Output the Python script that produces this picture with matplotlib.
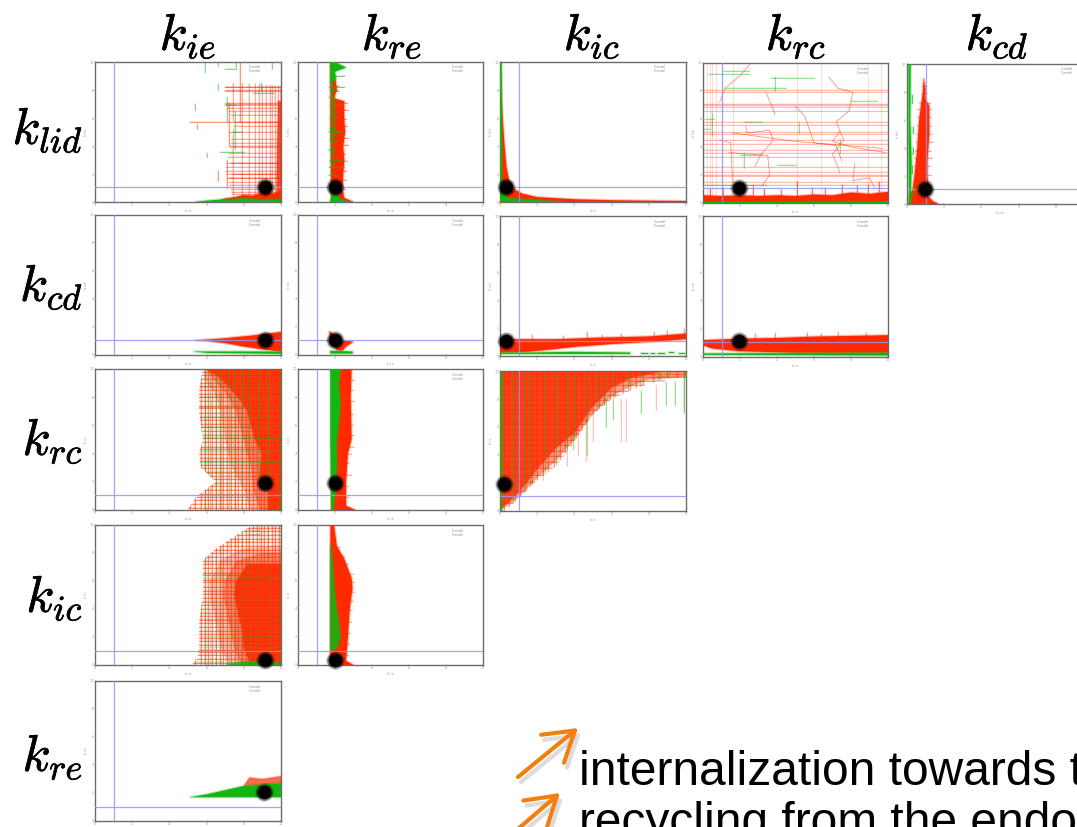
#!/usr/bin/env python

# Grid of pairwise parameter traces, with blue reference lines and black start points

import matplotlib

matplotlib.use("Agg")
import matplotlib.pyplot as plt
from matplotlib.patches import Polygon, FancyArrowPatch
import matplotlib.patheffects as pe

plt.rcParams["mathtext.fontset"] = "cm"

W, H = 1077, 827
RED = "#ff2a00"
GREEN = "#12b512"
BLUE = "#9494f4"

column_labels = ["k_{ie}", "k_{re}", "k_{ic}", "k_{rc}", "k_{cd}"]
row_labels = ["k_{lid}", "k_{cd}", "k_{rc}", "k_{ic}", "k_{re}"]
tick_values = [0, 2, 4, 6, 8, 10]
text_lines = ["internalization towards t", "recycling from the endo"]

# Panel edges in pixels: left, top, right, bottom
box_a1 = (95, 62, 281, 202)
box_a2 = (298, 62, 483, 202)
box_a3 = (500, 62, 686, 202)
box_a4 = (703, 63, 888, 203)
box_a5 = (907, 64, 1093, 204)
box_b1 = (95, 215, 281, 355)
box_b2 = (298, 215, 483, 355)
box_b3 = (500, 216, 686, 356)
box_b4 = (703, 216, 888, 357)
box_c1 = (95, 369, 281, 510)
box_c2 = (298, 369, 483, 510)
box_c3 = (500, 371, 686, 511)
box_d1 = (95, 525, 281, 665)
box_d2 = (298, 525, 483, 665)
box_e1 = (95, 681, 281, 821)

# Filled outlines of the traces (x, y)
a1_red = [(6.5, 0), (10, 0), (10, 0.8), (9.6, 0.6), (9, 0.7), (8.5, 0.45), (8, 0.5), (7.5, 0.35), (7, 0.25)]
a1_green = [(5.4, 0), (10, 0), (10, 0.2), (9, 0.15), (8, 0.28), (7.3, 0.18), (7, 0.2), (6, 0.1)]
a1_edge = [(9.75, 0.3), (10, 0.3), (10, 7.2), (9.85, 7.2), (9.8, 4.5)]
a2_red = [(1.8, 0), (3.0, 0), (2.5, 0.3), (2.4, 1), (2.5, 3), (2.45, 4), (2.55, 5), (2.5, 6), (2.5, 7.2),
          (1.95, 7.4), (2.1, 8), (2.05, 8.6), (1.85, 10), (1.75, 10), (1.75, 5)]
a2_green = [(1.72, 0), (2.8, 0), (2.3, 0.2), (2.1, 0.55), (1.85, 0.6)]
a2_green_top = [(1.75, 8.4), (2.05, 8.8), (2.0, 9.3), (2.6, 9.6), (2.0, 10), (1.75, 10)]
a3_red = [(0, 0), (10, 0), (10, 0.07), (8, 0.1), (6, 0.13), (4, 0.2), (2, 0.35), (1.2, 0.6), (0.8, 0.9),
          (0.5, 1.5), (0.35, 2.5), (0.25, 4), (0.15, 6), (0.08, 8), (0.05, 10), (0, 10)]
a3_green = [(0, 0), (3.5, 0), (2.5, 0.1), (1, 0.22), (0.4, 0.3), (0.1, 1), (0.1, 4), (0.08, 10), (0, 10)]
a4_red = [(0.05, 0), (10, 0), (10, 0.8), (9, 0.65), (8, 0.75), (7, 0.55), (6, 0.6), (5, 0.5), (4, 0.55),
          (3, 0.5), (2, 0.55), (1, 0.5), (0.05, 0.55)]
a4_green = [(0.05, 0), (10, 0), (10, 0.08), (0.05, 0.08)]
a5_red = [(0.1, 0), (1.7, 0), (1.4, 0.2), (1.1, 0.6), (1.2, 1), (1.1, 2), (1.1, 3), (1.15, 4), (1.2, 5),
          (1.2, 6), (1.2, 7), (1.0, 7.5), (1.0, 8.2), (0.9, 9), (0.85, 8), (0.75, 7), (0.65, 6), (0.55, 4),
          (0.4, 2), (0.3, 1), (0.1, 0.5)]
a5_green = [(0.1, 0), (0.2, 0), (0.25, 3), (0.18, 6), (0.2, 10), (0.08, 10), (0.08, 5)]
b1_red = [(5.4, 1.05), (7, 1.2), (8.5, 1.4), (10, 1.65), (10, 0.25), (9, 0.4), (8, 0.6), (7, 0.85), (6, 1.0)]
b1_green = [(5.3, 0.25), (10, 0.25), (10, 0.08), (6, 0.15)]
b2_red = [(1.7, 1.7), (2.0, 1.4), (2.3, 1.05), (3.0, 0.95), (2.6, 0.6), (2.4, 0.3), (2.1, 0.35), (1.9, 0.7),
          (1.75, 1.1)]
b2_green = [(1.75, 0.3), (2.95, 0.25), (2.95, 0.1), (1.75, 0.1)]
b3_red = [(0, 1.2), (3, 1.2), (5, 1.3), (8, 1.4), (10, 1.6), (10, 1.2), (8, 1.0), (6, 0.85), (4, 0.65),
          (3, 0.5), (1.5, 0.3), (0, 0.25)]
b3_green = [(0, 0.25), (1.5, 0.25), (4, 0.3), (7, 0.25), (7, 0.15), (0, 0.15)]
b4_red = [(0.05, 1.2), (2, 1.3), (4, 1.35), (6, 1.45), (8, 1.5), (10, 1.55), (10, 0.3), (8, 0.3), (5, 0.3),
          (2, 0.4), (0.5, 0.6), (0.05, 0.8)]
b4_green = [(0.05, 0.25), (10, 0.3), (10, 0.1), (0.05, 0.15)]
c1_red = [(10, 0), (9.3, 0), (9.3, 1.5), (8.8, 2), (9, 4), (8.6, 5), (8.2, 7), (7.7, 8), (6.8, 9.3), (6, 10),
          (10, 10)]
c1_mid = [(10, 0), (8.9, 0), (8.5, 1.5), (8.4, 3), (8.0, 5), (7.6, 7), (7.1, 8.2), (6.3, 9.4), (6.0, 10), (10, 10)]
c1_outer = [(10, 0), (8.4, 0), (8.0, 1.5), (7.4, 3), (7.0, 5), (6.8, 7), (6.4, 8.4), (5.9, 9.3), (5.9, 10), (10, 10)]
c2_red = [(1.8, 0), (3.1, 0), (2.6, 0.3), (2.6, 2), (2.7, 4), (2.9, 5), (2.85, 8), (2.9, 10), (1.8, 10)]
c2_green = [(1.75, 10), (2.3, 10), (2.2, 9), (2.3, 7.5), (2.2, 6), (2.1, 5), (2.1, 3), (2.0, 1), (1.9, 0),
            (1.8, 0), (1.75, 5)]
c3_red = [(0, 0.1), (1, 1.3), (2, 3), (3, 4.5), (4, 5.6), (5, 7.5), (6, 8.8), (7, 9.5), (8.5, 9.9), (8.5, 10),
          (0, 10)]
c3_mid = [(0, 0.05), (1, 1.0), (2, 2.4), (3, 3.6), (4, 5.2), (5, 7.0), (6, 8.2), (7, 8.9), (8, 9.4), (10, 9.6),
          (10, 10), (0, 10)]
c3_green = [(0, 0), (0.12, 0), (0.15, 10), (0, 10)]
d1_red = [(10, 0), (8.4, 0), (8.0, 1.2), (7.9, 2.5), (7.5, 5), (7.6, 6), (8.2, 7.2), (10, 7.2)]
d1_mid = [(10, 0), (7.9, 0), (7.5, 1.2), (7.3, 2.5), (6.9, 5), (7.0, 6), (7.6, 7.4), (9, 8.0), (10, 8.0)]
d1_outer = [(10, 0), (7.2, 0), (6.8, 1.2), (6.6, 2.5), (6.2, 5), (6.2, 6), (6.8, 7.5), (8.0, 8.3), (10, 8.5)]
d1_green = [(7, 0), (10, 0), (10, 0.2), (8, 0.25)]
d2_red = [(1.8, 0), (3.0, 0), (2.6, 0.3), (2.7, 2), (2.8, 4), (2.95, 5.5), (2.9, 6.2), (2.5, 7.6), (2.1, 8.5),
          (1.95, 10), (1.75, 10), (1.75, 0)]
d2_green = [(1.75, 1.0), (2.1, 1.2), (2.3, 2), (2.2, 3), (2.0, 5), (1.9, 7), (1.8, 8.5), (1.75, 8.5)]
e1_red = [(8, 2.5), (8.3, 3.1), (9, 3.0), (10, 3.2), (10, 2.7)]
e1_green = [(5.1, 1.7), (10, 1.7), (10, 2.7), (8, 2.5), (7, 2.2), (6, 1.9)]

# Outer limits of the hatched clouds
a1_cloud = [(7.4, 0.4), (7.0, 2.2), (7.5, 5.6), (7.0, 7.0), (7.0, 8.5), (8.0, 8.5), (10, 8.3), (10, 0.3)]
c1_cloud = [(5.8, 10), (5.6, 8.5), (5.6, 7), (5.8, 5), (5.6, 4), (5.7, 3), (6.5, 2), (5.5, 1.0), (5, 0.1),
            (5, 0), (10, 0), (10, 10)]
c3_cloud = [(0, 0), (0.3, 0), (1, 0.9), (2, 2.2), (3, 3.2), (4, 5), (5, 6.9), (6, 8), (7, 8.6), (8, 9.1),
            (9, 9.5), (10, 9.5), (10, 10), (0, 10)]
d1_cloud = [(5.2, 0), (5.5, 0.5), (5.6, 1.2), (5.6, 3), (5.8, 5), (5.8, 7), (5.8, 7.5), (6.5, 8.3), (7.3, 9),
            (8, 9.6), (8.5, 10), (10, 10), (10, 0)]

# Hatch lines inside the clouds
a1_rows = [0.6, 0.75, 0.9, 1.2, 1.45, 1.7, 2.0, 2.25, 2.5, 2.8, 3.2, 3.5, 3.9, 4.0, 4.2, 4.5, 5.0, 5.4, 5.75, 6.2,
           6.5, 6.7, 6.9, 7.0, 7.1, 8.0, 8.2]
a1_cols = [7.4, 7.9, 8.3, 8.6, 8.8, 9.0, 9.2, 9.4, 9.5, 9.7, 9.85, 9.95]
hatch_rows = [0.15, 0.4, 0.7, 0.95, 1.1, 1.4, 1.7, 1.9, 2.2, 2.4, 2.7, 3.0, 3.2, 3.5, 3.7, 4.0, 4.3, 4.5, 4.8,
              5.1, 5.3, 5.6, 5.9, 6.1, 6.4, 6.6, 6.9, 7.2, 7.4, 7.7, 8.0, 8.2, 8.5, 8.8, 9.0, 9.3, 9.6, 9.8]
hatch_cols = [5.1, 5.4, 5.7, 5.9, 6.1, 6.3, 6.5, 6.7, 6.9, 7.1, 7.3, 7.5, 7.7, 7.9, 8.1, 8.3, 8.5, 8.7, 8.9,
              9.1, 9.3, 9.5, 9.7, 9.9]
c1_green_cols = [5.9, 6.2, 6.5, 6.8, 7.2, 7.5, 7.9, 8.3, 8.8, 9.3, 9.95]
c1_green_rows = [2.6, 3.4, 4.2, 5.1, 5.9, 6.6, 7.3, 8.0, 8.7]
c3_rows = [0.6, 1.4, 2.1, 2.6, 3.1, 3.5, 3.9, 4.3, 4.7, 5.1, 5.5, 5.8, 6.2, 6.5, 6.9, 7.2, 7.6, 7.9, 8.3, 8.6,
           9.0, 9.3, 9.6, 9.8]
c3_cols = [0.2, 0.5, 0.8, 1.1, 1.4, 1.7, 2.0, 2.3, 2.6, 2.9, 3.2, 3.5, 3.8, 4.1, 4.4, 4.7, 5.0, 5.3, 5.6, 5.9,
           6.2, 6.6, 7.0, 7.3, 7.7, 8.2, 8.6, 9.0, 9.5]
c3_green_cols = [0.7, 1.3, 1.6, 2.4, 3.0, 3.6, 4.0, 4.6, 5.2, 5.6, 6.1, 6.9, 7.5, 8.5, 9.1, 9.9]
d1_green_rows = [0.2, 1.3, 2.1, 3.3, 4.6, 6.2]

# Separate strokes: x, y0, y1 for uprights and y, x0, x1 for crossbars
a1_red_up = [(7.8, 5.7, 10), (7.2, 4.0, 7.1), (6.6, 1.5, 2.2), (7.1, 1.0, 3.0)]
a1_red_cross = [(5.75, 5.1, 10), (8.2, 7.0, 10), (7.9, 7.0, 10), (2.8, 7.3, 10), (2.0, 7.4, 10), (1.7, 7.2, 10)]
a1_green_up = [(5.9, 9.3, 10), (6.6, 9.7, 10), (7.6, 9.5, 10), (9.5, 9.5, 10), (8.9, 8.0, 8.5), (6.6, 8.0, 8.4),
               (5.4, 6.6, 7.0), (5.5, 5.2, 5.6), (6.0, 3.2, 3.5), (7.5, 3.8, 6.5), (7.1, 5.8, 7.5)]
a1_green_cross = [(9.5, 7.0, 7.5), (6.9, 7.0, 7.6), (3.6, 6.7, 8.0), (5.0, 7.2, 7.9), (7.8, 8.5, 9.6)]
a2_red_bars = [(0.9, 1.8, 2.55), (1.6, 1.75, 2.6), (2.2, 1.8, 2.6), (2.9, 1.75, 2.65), (3.4, 1.8, 2.55),
               (4.1, 1.8, 2.7), (4.6, 1.8, 2.7), (5.4, 1.85, 2.65), (5.9, 1.8, 2.6), (6.6, 1.85, 2.7),
               (7.1, 1.9, 2.65), (7.9, 1.85, 2.2), (8.3, 1.85, 2.15)]
a2_green_bars = [(1.2, 1.75, 2.0), (1.9, 1.7, 2.1), (2.5, 1.7, 2.5), (3.0, 1.75, 2.3), (3.7, 1.7, 2.0),
                 (4.4, 1.75, 2.1), (5.0, 1.7, 2.3), (5.3, 1.75, 2.0), (6.1, 1.75, 2.2), (6.9, 1.75, 2.4),
                 (7.5, 1.7, 2.0), (8.0, 1.75, 2.1), (8.2, 1.7, 2.5), (9.0, 1.8, 2.5)]
a2_green_up = [(1.8, 0.6, 8.4), (1.88, 2.5, 8.4), (1.95, 4.7, 7.4)]
a4_rows = [1.3, 1.5, 1.9, 2.0, 2.2, 2.6, 3.3, 3.6, 3.8, 4.2, 4.5, 4.9, 5.1, 5.6, 5.8, 6.6, 6.85, 7.0, 7.1, 7.9, 8.1]
a4_cols = [0.2, 0.4, 0.5, 0.7, 1.0, 1.6, 5.1, 6.4, 8.9, 9.6]
a4_green_cross = [(9.4, 1.1, 2.5), (8.9, 3.7, 6.0), (9.2, 0.3, 2.5), (8.2, 1.2, 4.5), (7.3, 8.0, 9.4),
                  (5.8, 2.2, 3.2), (6.0, 0.1, 0.6), (5.3, 0.05, 0.4), (3.4, 2.0, 3.2), (2.7, 4.0, 5.0),
                  (1.3, 0.1, 3.4)]
a4_green_up = [(3.9, 8.0, 9.0), (5.2, 5.0, 5.8), (7.4, 3.6, 4.6), (2.2, 2.5, 3.6), (0.5, 4.8, 6.4)]
a4_wiggles = [
    [(2.6, 10), (2.0, 9.1), (1.2, 8.2), (0.9, 7.2)],
    [(6.8, 9.0), (7.3, 8.2), (8.1, 7.9), (7.9, 6.6), (7.2, 5.8), (7.6, 4.5), (7.0, 3.5), (7.4, 2.2)],
    [(3.4, 7.9), (3.7, 7.0), (3.9, 6.3)],
    [(2.3, 5.5), (2.4, 5.0), (3.6, 5.2), (3.8, 4.5), (3.1, 3.4), (2.8, 2.6)],
    [(0.9, 4.5), (1.5, 4.3), (1.6, 1.5)],
    [(1.4, 3.6), (3.5, 3.4), (3.6, 2.0), (3.2, 1.2)],
    [(5.0, 6.9), (5.5, 6.2), (6.0, 4.3), (7.2, 4.1), (7.5, 3.0)],
    [(8.2, 2.8), (8.1, 1.6), (9.0, 1.8), (9.3, 1.0)],
    [(7.4, 5.1), (7.0, 4.4), (8.0, 4.0), (9.9, 3.6)],
    [(1.6, 5.0), (5.0, 4.4), (9.7, 3.9)],
]
a4_fringe = [(0.4, 0.5, 1.0), (1.1, 0.5, 1.1), (1.9, 0.5, 0.9), (2.7, 0.5, 1.2), (3.3, 0.5, 1.0), (4.2, 0.5, 0.9),
             (5.1, 0.5, 1.5), (5.9, 0.5, 1.1), (6.6, 0.5, 1.0), (7.5, 0.5, 1.3), (8.3, 0.6, 1.2), (8.9, 0.6, 1.3),
             (9.5, 0.6, 1.5)]
a5_red_bars = [(1.0, 0.3, 1.4), (1.6, 0.4, 1.25), (2.1, 0.35, 1.3), (2.7, 0.4, 1.25), (3.3, 0.4, 1.35),
               (3.8, 0.45, 1.3), (4.4, 0.5, 1.4), (5.0, 0.5, 1.35), (5.6, 0.55, 1.3), (6.2, 0.55, 1.3),
               (6.8, 0.55, 1.3), (7.2, 0.65, 1.25), (7.9, 0.8, 1.1), (8.4, 0.8, 1.05)]
a5_green_up = [(0.32, 0.6, 1.1), (0.28, 2.2, 2.7), (0.33, 3.6, 4.0), (0.3, 5.1, 5.5), (0.26, 7.2, 7.8)]
b3_green_bars = [(0.25, 7.6, 7.9), (0.22, 8.1, 8.3), (0.25, 8.5, 8.8), (0.28, 9.1, 9.3), (0.25, 9.6, 9.9)]
b3_fringe = [(1.7, 1.2, 1.5), (3.4, 1.2, 1.4), (4.7, 1.3, 1.7), (5.5, 1.3, 1.5), (6.5, 1.35, 1.6), (8.3, 1.4, 1.7),
             (9.0, 1.45, 1.8), (9.9, 1.5, 1.9)]
b4_fringe = [(2.8, 1.3, 1.6), (3.9, 1.35, 1.7), (5.6, 1.4, 1.7), (6.4, 1.4, 1.6), (7.3, 1.45, 1.75), (8.8, 1.5, 1.7)]
c2_red_bars = [(0.9, 1.85, 2.75), (1.7, 1.85, 2.7), (2.5, 1.85, 2.85), (3.3, 1.85, 2.75), (4.0, 1.85, 2.85),
               (4.5, 1.85, 2.95), (5.3, 1.85, 3.0), (6.0, 1.85, 2.95), (6.8, 1.85, 2.95), (7.7, 1.85, 3.0),
               (8.5, 1.85, 2.95), (9.2, 1.85, 3.0)]
c3_drips = [(2.3, 2.2, 4.0), (3.6, 3.2, 5.5), (4.2, 4.0, 6.0), (4.6, 3.6, 6.5), (5.0, 5.0, 7.0), (6.5, 5.0, 8.0),
            (6.8, 5.0, 8.0), (8.4, 7.2, 9.0), (9.9, 7.2, 10)]
c3_green_drips = [(3.9, 4.4, 6.0), (4.7, 4.0, 6.5), (5.7, 6.0, 8.0), (6.1, 6.6, 8.0), (7.6, 7.0, 8.6),
                  (8.9, 7.6, 9.2), (9.4, 7.6, 9.2), (9.9, 7.0, 10)]
d2_red_bars = [(0.7, 1.85, 2.7), (1.5, 1.85, 2.75), (2.3, 1.85, 2.8), (3.1, 1.85, 2.85), (3.9, 1.85, 2.9),
               (4.6, 1.85, 2.95), (5.2, 1.85, 3.0), (5.9, 1.85, 3.0), (6.5, 1.85, 2.95), (7.2, 1.85, 2.7),
               (7.8, 1.85, 2.5), (8.4, 1.8, 2.25)]

# Reference lines and start points
blue_x = [1.0, 1.03, 1.03, 1.0, 1.0, 1.0, 1.03, 1.03, 1.0, 1.0, 1.03, 1.0, 1.0, 1.03, 1.0]
blue_y = [1.1, 1.1, 1.1, 1.1, 1.09, 1.07, 1.07, 1.07, 1.09, 1.09, 1.09, 1.1, 1.03, 1.03, 1.02]
dot_x = [9.12, 2.0, 0.3, 1.97, 0.95, 9.12, 2.0, 0.3, 1.97, 9.12, 2.0, 0.2, 9.12, 2.0, 9.1]
dot_y = [1.1, 1.1, 1.1, 1.05, 1.09, 1.07, 1.07, 1.05, 1.1, 1.95, 1.95, 1.95, 0.35, 0.35, 2.05]
boxes = [box_a1, box_a2, box_a3, box_a4, box_a5, box_b1, box_b2, box_b3, box_b4, box_c1, box_c2, box_c3,
         box_d1, box_d2, box_e1]
x_names = ["k ie", "k re", "k ic", "k rc", "k cd", "k ie", "k re", "k ic", "k rc", "k ie", "k re", "k ic",
           "k ie", "k re", "k ie"]
y_names = ["k lid"] * 5 + ["k cd"] * 4 + ["k rc"] * 3 + ["k ic"] * 2 + ["k re"]

fig = plt.figure(figsize=(W / 100, H / 100), dpi=100, facecolor="white")


def fill(ax, outline, color, alpha=1.0, zorder=3):
    # Wider see-through edge stands in for the blur of the original
    ax.add_patch(Polygon(outline, closed=True, fill=False, edgecolor=color, lw=1.6, alpha=0.3 * alpha, zorder=zorder))
    ax.add_patch(Polygon(outline, closed=True, facecolor=color, edgecolor="none", alpha=alpha, zorder=zorder))


def hatch(ax, cloud, rows, cols, color, lw=0.5, alpha=0.6, zorder=2):
    clip = Polygon(cloud, closed=True, transform=ax.transData)
    for width, a in [(lw * 3.2, alpha * 0.25), (lw, alpha)]:
        h = ax.hlines(rows, 0, 10, color=color, lw=width, alpha=a, zorder=zorder)
        v = ax.vlines(cols, 0, 10, color=color, lw=width, alpha=a, zorder=zorder)
        h.set_clip_path(clip)
        v.set_clip_path(clip)


def strokes(ax, up, cross, color, lw=0.5, alpha=0.6, zorder=2):
    for x, y0, y1 in up:
        ax.plot([x, x], [y0, y1], color=color, lw=lw, alpha=alpha, zorder=zorder)
        ax.plot([x, x], [y0, y1], color=color, lw=lw * 3, alpha=alpha * 0.22, zorder=zorder)
    for y, x0, x1 in cross:
        ax.plot([x0, x1], [y, y], color=color, lw=lw, alpha=alpha, zorder=zorder)
        ax.plot([x0, x1], [y, y], color=color, lw=lw * 3, alpha=alpha * 0.22, zorder=zorder)


axes = []
for i, (l, t, r, b) in enumerate(boxes):
    ax = fig.add_axes([l / W, 1 - b / H, (r - l) / W, (b - t) / H])
    ax.set_xlim(0, 10)
    ax.set_ylim(0, 10)
    ax.set_xticks(tick_values)
    ax.set_yticks(tick_values)
    ax.tick_params(length=1, width=0.3, pad=1, labelsize=2.5, colors="#999999", direction="in")
    ax.set_xlabel(x_names[i], fontsize=2.5, color="#999999", labelpad=1)
    ax.set_ylabel(y_names[i], fontsize=2.5, color="#999999", labelpad=1)
    for s in ax.spines.values():
        s.set_linewidth(1.0)
        s.set_color("#6c6c6c")
    ax.axvline(blue_x[i], color=BLUE, lw=0.9, alpha=0.85, zorder=6)
    ax.axhline(blue_y[i], color=BLUE, lw=0.9, alpha=0.85, zorder=6)
    ax.scatter([dot_x[i]], [dot_y[i]], s=190, color="black", alpha=0.12, lw=0, zorder=7, clip_on=False)
    ax.scatter([dot_x[i]], [dot_y[i]], s=145, color="black", alpha=0.45, lw=0, zorder=7, clip_on=False)
    ax.scatter([dot_x[i]], [dot_y[i]], s=95, color="black", lw=0, zorder=7, clip_on=False)
    ax.text(0.83, 0.975, "0 model\n0 model", transform=ax.transAxes, fontsize=2, color="#888888", va="top",
            ha="left", linespacing=1.0)
    axes.append(ax)

a1, a2, a3, a4, a5, b1, b2, b3, b4, c1, c2, c3, d1, d2, e1 = axes

hatch(a1, a1_cloud, a1_rows, a1_cols, RED, lw=0.45, alpha=0.5)
strokes(a1, a1_red_up, a1_red_cross, RED)
strokes(a1, a1_green_up, a1_green_cross, GREEN, lw=0.5, alpha=0.6, zorder=3)
fill(a1, a1_edge, RED, alpha=0.8)
fill(a1, a1_red, RED)
fill(a1, a1_green, GREEN, zorder=4)

fill(a2, a2_red, RED)
strokes(a2, [], a2_red_bars, RED, zorder=3)
strokes(a2, a2_green_up, a2_green_bars, GREEN, lw=0.5, alpha=0.75, zorder=4)
fill(a2, a2_green, GREEN, zorder=4)
fill(a2, a2_green_top, GREEN, zorder=4)
fill(a3, a3_red, RED)
fill(a3, a3_green, GREEN, zorder=4)

a4.hlines(a4_rows, 0, 10, color=RED, lw=0.5, alpha=0.35, zorder=2)
a4.hlines(a4_rows, 0, 10, color=RED, lw=1.5, alpha=0.08, zorder=2)
a4.vlines(a4_cols, 0, 10, color=RED, lw=0.4, alpha=0.3, zorder=2)
for line in a4_wiggles:
    a4.plot([p[0] for p in line], [p[1] for p in line], color=RED, lw=0.5, alpha=0.6, zorder=2)
strokes(a4, a4_green_up, a4_green_cross, GREEN, lw=0.5, alpha=0.5, zorder=3)
strokes(a4, a4_fringe, [], RED, lw=0.6, alpha=0.7, zorder=3)
fill(a4, a4_red, RED)
fill(a4, a4_green, GREEN, zorder=4)

fill(a5, a5_red, RED)
strokes(a5, [], a5_red_bars, RED, lw=0.4, alpha=0.6, zorder=3)
strokes(a5, a5_green_up, [], GREEN, lw=0.6, alpha=0.8, zorder=4)
fill(a5, a5_green, GREEN, zorder=4)
fill(b1, b1_red, RED)
fill(b1, b1_green, GREEN, zorder=4)
fill(b2, b2_red, RED)
fill(b2, b2_green, GREEN, zorder=4)
fill(b3, b3_red, RED)
strokes(b3, b3_fringe, [], RED, lw=0.5, alpha=0.6, zorder=3)
strokes(b3, [], b3_green_bars, GREEN, lw=0.8, alpha=0.9, zorder=4)
fill(b3, b3_green, GREEN, zorder=4)
fill(b4, b4_red, RED)
strokes(b4, b4_fringe, [], RED, lw=0.5, alpha=0.6, zorder=3)
fill(b4, b4_green, GREEN, zorder=4)

hatch(c1, c1_cloud, hatch_rows, hatch_cols, RED, lw=0.5, alpha=0.65)
fill(c1, c1_outer, RED, alpha=0.25)
fill(c1, c1_mid, RED, alpha=0.4)
fill(c1, c1_red, RED, alpha=0.85)
hatch(c1, c1_cloud, c1_green_rows, c1_green_cols, GREEN, lw=0.5, alpha=0.45, zorder=5)

fill(c2, c2_red, RED)
strokes(c2, [], c2_red_bars, RED, lw=0.4, alpha=0.6, zorder=3)
fill(c2, c2_green, GREEN, zorder=4)

strokes(c3, c3_drips, [], RED, lw=0.4, alpha=0.4, zorder=1)
strokes(c3, c3_green_drips, [], GREEN, lw=0.5, alpha=0.5, zorder=1)
hatch(c3, c3_cloud, c3_rows, c3_cols, RED)
fill(c3, c3_mid, RED, alpha=0.45)
fill(c3, c3_red, RED, alpha=0.8)
hatch(c3, c3_cloud, [], c3_green_cols, GREEN, lw=0.6, alpha=0.4, zorder=4)
fill(c3, c3_green, GREEN, alpha=0.7, zorder=4)

hatch(d1, d1_cloud, hatch_rows, hatch_cols, RED, lw=0.5, alpha=0.65)
fill(d1, d1_outer, RED, alpha=0.25)
fill(d1, d1_mid, RED, alpha=0.4)
fill(d1, d1_red, RED, alpha=0.85)
hatch(d1, d1_cloud, d1_green_rows, c1_green_cols, GREEN, lw=0.4, alpha=0.3, zorder=5)
fill(d1, d1_green, GREEN, alpha=0.8, zorder=5)

fill(d2, d2_red, RED)
strokes(d2, [], d2_red_bars, RED, lw=0.4, alpha=0.6, zorder=3)
fill(d2, d2_green, GREEN, alpha=0.9, zorder=4)
fill(e1, e1_red, RED, alpha=0.7)
fill(e1, e1_green, GREEN, zorder=4)

# Column and row headings, thickened a little as in the original
thick = [pe.withStroke(linewidth=0.5, foreground="black")]
for name, px in zip(column_labels, [188, 392, 592, 796, 997]):
    fig.text(px / W, 1 - 36 / H, "$%s$" % name, fontsize=37, ha="center", va="center", color="black", path_effects=thick)
for name, py in zip(row_labels, [130, 287, 441, 598, 757]):
    fig.text(83 / W, 1 - py / H, "$%s$" % name, fontsize=37, ha="right", va="center", color="black", path_effects=thick)

# Text at the bottom right, running off the slide
fig.text(579 / W, 1 - 785 / H, text_lines[0], fontsize=34.5, family="Liberation Sans", color="black")
fig.text(579 / W, 1 - 836 / H, text_lines[1], fontsize=34.5, family="Liberation Sans", color="black")

for tail, tip in [((518, 777), (578, 728)), ((505, 840), (560, 793))]:
    for off, col in [((3, 5), "#dcdcdc"), ((0, 0), "#f57f0e")]:
        start = ((tail[0] + off[0]) / W, 1 - (tail[1] + off[1]) / H)
        end = ((tip[0] + off[0]) / W, 1 - (tip[1] + off[1]) / H)
        fig.add_artist(FancyArrowPatch(start, end, transform=fig.transFigure, arrowstyle="->,head_length=8,head_width=5",
                                       mutation_scale=2.6, lw=3, color=col, shrinkA=0, shrinkB=0))

fig.savefig("out.png", dpi=100)
